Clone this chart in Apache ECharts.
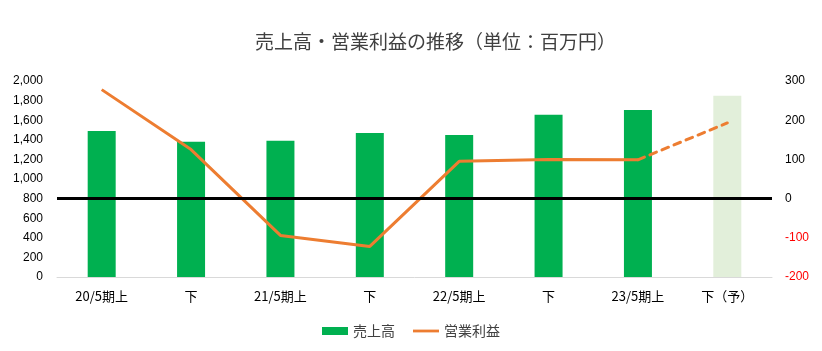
<!DOCTYPE html>
<html>
<head>
<meta charset="utf-8">
<script src="https://cdn.jsdelivr.net/npm/echarts@6/dist/echarts.min.js"></script>
<style>
  html, body { margin: 0; padding: 0; background: #fff; }
  #chart-div { width: 822px; height: 351px; }
</style>
</head>
<body>
<div id="chart-div"></div>
<script>
// 期（カテゴリ）
const categories = ['20/5期上', '下', '21/5期上', '下', '22/5期上', '下', '23/5期上', '下（予）']
// 売上高（百万円）
const sales = [1490, 1380, 1390, 1470, 1450, 1655, 1705, 1850]
// 営業利益（百万円）実績と予想
const profitActual = [278, 125, -94, -122, 95, 100, 99, '-']
const profitForecast = ['-', '-', '-', '-', '-', '-', 99, 193]

const numFont = '"Liberation Sans", Arial, sans-serif'
const jpFont = '"Noto Sans CJK JP", sans-serif'

let myChart = echarts.init(document.getElementById('chart-div'))

const option = {
    animation: false,
    title: {
        text: '売上高・営業利益の推移（単位：百万円）',
        left: 250,
        top: 27,
        textStyle: { fontFamily: jpFont, fontSize: 19, fontWeight: 'normal', color: '#404040' }
    },
    legend: {
        bottom: 8,
        itemGap: 18,
        textStyle: { fontFamily: jpFont, fontSize: 14, color: '#404040' },
        data: [
            { name: '売上高', icon: 'rect', itemStyle: { color: '#00B050' } },
            { name: '営業利益', icon: 'path://M0,0 L28,0 L28,3 L0,3 Z', itemStyle: { color: '#ED7D31' } }
        ],
        itemWidth: 26,
        itemHeight: 8
    },
    grid: { left: 57, right: 50, top: 81, bottom: 74 },
    xAxis: {
        type: 'category',
        data: categories,
        axisTick: { show: false },
        axisLine: { lineStyle: { color: '#D9D9D9', width: 1 } },
        axisLabel: { fontFamily: jpFont, fontSize: 13, color: '#000', margin: 13 }
    },
    yAxis: [
        {
            type: 'value',
            min: 0, max: 2000, interval: 200,
            splitLine: { show: false },
            axisLine: { show: false },
            axisLabel: {
                fontFamily: numFont, fontSize: 12, color: '#000', margin: 14,
                formatter: v => v.toLocaleString('en-US')
            }
        },
        {
            type: 'value',
            min: -200, max: 300, interval: 100,
            splitLine: { show: false },
            axisLine: { show: false },
            axisLabel: {
                fontFamily: numFont, fontSize: 12, margin: 13,
                color: v => (Number(v) < 0 ? '#FF0000' : '#000')
            }
        }
    ],
    series: [
        {
            name: '売上高',
            type: 'bar',
            barWidth: 28,
            data: sales.map((v, i) => ({
                value: v,
                itemStyle: { color: i === sales.length - 1 ? '#E2EFDA' : '#00B050' }
            }))
        },
        {
            name: '営業利益',
            type: 'line',
            yAxisIndex: 1,
            symbol: 'none',
            data: profitActual,
            lineStyle: { color: '#ED7D31', width: 3 },
            itemStyle: { color: '#ED7D31' },
            markLine: {
                silent: true,
                symbol: 'none',
                label: { show: false },
                lineStyle: { color: '#000', width: 3, type: 'solid' },
                data: [{ yAxis: 0 }]
            },
            z: 3
        },
        {
            name: '営業利益予想',
            type: 'line',
            yAxisIndex: 1,
            symbol: 'none',
            data: profitForecast,
            lineStyle: { color: '#ED7D31', width: 3, type: [7, 6], cap: 'round' },
            itemStyle: { color: '#ED7D31' },
            z: 3
        }
    ]
}

myChart.setOption(option)
</script>
</body>
</html>
